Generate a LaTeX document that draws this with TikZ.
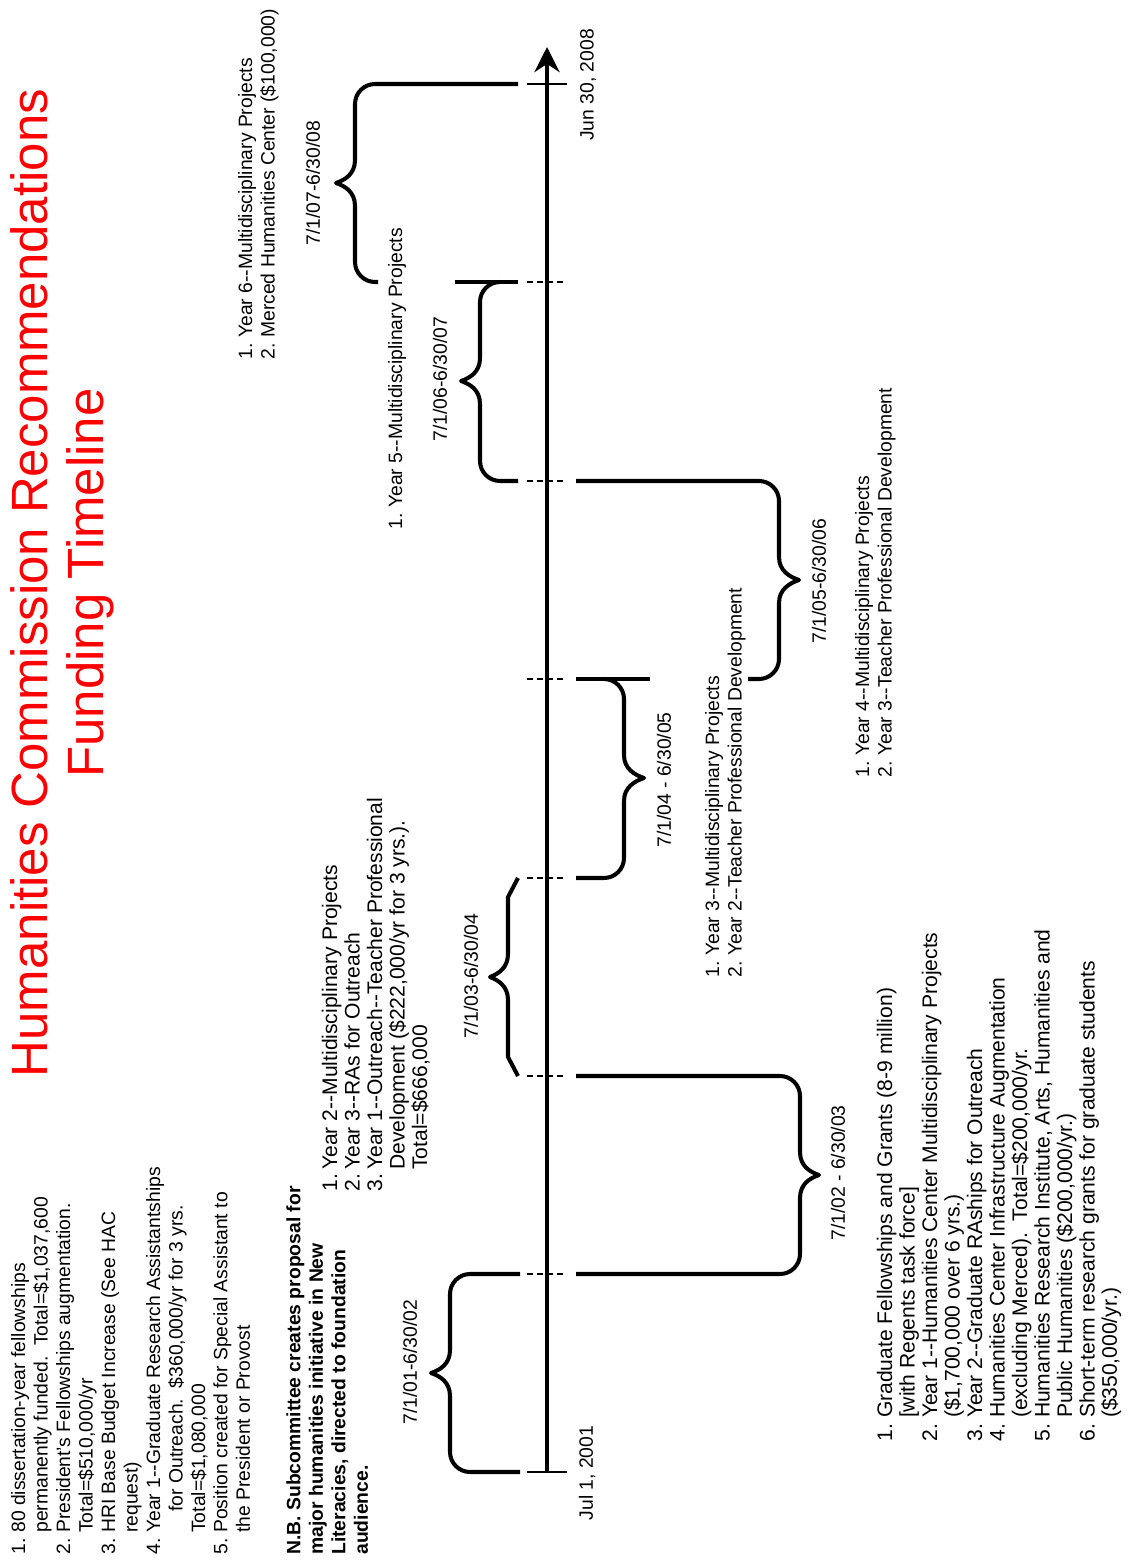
\documentclass[tikz,border=0pt]{standalone}
\usepackage{fontspec}
\setmainfont{Liberation Sans}
\usepackage{tikz}
\usetikzlibrary{arrows.meta,positioning}

\begin{document}
\begin{tikzpicture}[x=0.02cm, y=-0.02cm, >={Stealth[length=0.5cm,width=0.5cm,inset=0.16cm]},
    bracket/.style={line width=2.3pt, line join=round},
    yeartick/.style={line width=0.75pt},
    midtick/.style={line width=0.75pt, dash pattern=on 3.4pt off 2.3pt},
    period/.style={rotate=90, inner sep=0pt, font=\fontsize{11}{12.8}\selectfont},
    itemlist/.style={rotate=90, anchor=north west, inner sep=0pt, font=\fontsize{11}{12.8}\selectfont},
    biglist/.style={itemlist, font=\fontsize{12}{12.8}\selectfont},
    heading/.style={rotate=90, anchor=base, inner sep=0pt, text=red, font=\fontsize{29}{32}\selectfont}]
    \useasboundingbox (0,0) rectangle (1131,1564);

    % title
    \node[heading] (title) at (47,583) {Humanities Commission Recommendations};
    \node[heading] (subtitle) at (103,583) {Funding Timeline};

    % time axis
    \coordinate (t0) at (547,1472);
    \coordinate (t7) at (547,84);
    \coordinate (tip) at (547,47);
    \draw[line width=2.8pt,->] (t0) -- (tip);
    \draw[yeartick] (527,1472) -- (567,1472);
    \draw[yeartick] (527,84) -- (567,84);
    \draw[midtick] (527,1274) -- (567,1274) (527,1076) -- (567,1076) (527,878) -- (567,878)
        (527,679) -- (567,679) (527,481) -- (567,481) (527,282) -- (567,282);
    \node[period] (start) at (587,1473) {Jul 1, 2001};
    \node[period] (finish) at (588,85) {Jun 30, 2008};

    % yearly braces
    \draw[bracket] (520,1274) -- (470,1274) .. controls (459,1274) and (450,1283) .. (450,1294) -- (450,1350)
        .. controls (450,1364) and (440,1370) .. (431,1373) .. controls (440,1376) and (450,1382) .. (450,1396)
        -- (450,1452) .. controls (450,1463) and (459,1472) .. (470,1472) -- (520,1472);
    \draw[bracket] (576,1274) -- (780,1274) .. controls (791,1274) and (800,1265) .. (800,1254) -- (800,1198)
        .. controls (800,1184) and (810,1178) .. (819,1175) .. controls (810,1172) and (800,1166) .. (800,1152)
        -- (800,1096) .. controls (800,1085) and (791,1076) .. (780,1076) -- (576,1076);
    \draw[bracket] (518,1076) -- (508,1057) -- (508,1000) .. controls (508,986) and (498,980) .. (490,977)
        .. controls (498,974) and (508,968) .. (508,954) -- (508,897) -- (518,878);
    \draw[bracket] (576,878) -- (604,878) .. controls (615,878) and (624,869) .. (624,858) -- (624,801)
        .. controls (624,787) and (635,781) .. (644,778) .. controls (635,775) and (624,769) .. (624,755)
        -- (624,699) .. controls (624,688) and (615,679) .. (604,679);
    \draw[bracket] (576,679) -- (650,679);
    \draw[bracket] (576,481) -- (759,481) .. controls (770,481) and (779,490) .. (779,501) -- (779,557)
        .. controls (779,571) and (790,577) .. (799,580) .. controls (790,583) and (779,589) .. (779,603)
        -- (779,659) .. controls (779,670) and (770,679) .. (759,679) -- (748,679);
    \draw[bracket] (518,481) -- (500,481) .. controls (489,481) and (480,472) .. (480,461) -- (480,404)
        .. controls (480,390) and (470,384) .. (461,381) .. controls (470,378) and (480,372) .. (480,358)
        -- (480,302) .. controls (480,291) and (489,282) .. (500,282);
    \draw[bracket] (455,282) -- (518,282);
    \draw[bracket] (518,84) -- (375,84) .. controls (364,84) and (355,93) .. (355,104) -- (355,160)
        .. controls (355,174) and (345,180) .. (336,183) .. controls (345,186) and (355,192) .. (355,206)
        -- (355,262) .. controls (355,273) and (364,282) .. (375,282) -- (378,282);

    % period labels
    \node[period] (p1) at (410,1362) {7/1/01-6/30/02};
    \node[period] (p2) at (838,1173) {7/1/02 - 6/30/03};
    \node[period] (p3) at (471,976) {7/1/03-6/30/04};
    \node[period] (p4) at (664,780) {7/1/04 - 6/30/05};
    \node[period] (p5) at (819,581) {7/1/05-6/30/06};
    \node[period] (p6) at (440,379) {7/1/06-6/30/07};
    \node[period] (p7) at (313,183) {7/1/07-6/30/08};

    % what each period funds
    \node[itemlist] (start items) at (9,1555) {\begin{tabular}{@{}p{12.5pt}@{}l@{}}
        1. & 80 dissertation-year fellowships\\
           & permanently funded.\ \ Total=\$1,037,600\\
        2. & President's Fellowships augmentation.\\
           & Total=\$510,000/yr\\
        3. & HRI Base Budget Increase (See HAC\\
           & request)\\
        4. & Year 1-{}-Graduate Research Assistantships\\
           & \hspace{12pt}for Outreach.\ \ \$360,000/yr for 3 yrs.\\
           & Total=\$1,080,000\\
        5. & Position created for Special Assistant to\\
           & the President or Provost
        \end{tabular}};
    \node[itemlist, font=\fontsize{11}{12.8}\selectfont\bfseries, align=left] (nb) at (286,1555)
        {N.B. Subcommittee creates proposal for\\ major humanities initiative in New\\
         Literacies, directed to foundation\\ audience.};
    \node[biglist] (items0203) at (876,1442) {\begin{tabular}{@{}p{13.5pt}@{}l@{}}
        1. & Graduate Fellowships and Grants (8-9 million)\\
           & [with Regents task force]\\
        2. & Year 1-{}-Humanities Center Multidisciplinary Projects\\
           & (\$1,700,000 over 6 yrs.)\\
        3. & Year 2-{}-Graduate RAships for Outreach\\
        4. & Humanities Center Infrastructure Augmentation\\
           & (excluding Merced).\ \ Total=\$200,000/yr.\\
        5. & Humanities Research Institute, Arts, Humanities and\\
           & Public Humanities (\$200,000/yr.)\\
        6. & Short-term research grants for graduate students\\
           & (\$350,000/yr.)
        \end{tabular}};
    \node[biglist] (items0304) at (321,1192) {\begin{tabular}{@{}p{12.5pt}@{}l@{}}
        1. & Year 2-{}-Multidisciplinary Projects\\
        2. & Year 3-{}-RAs for Outreach\\
        3. & Year 1-{}-Outreach-{}-Teacher Professional\\
           & Development (\$222,000/yr for 3 yrs.).\\
           & Total=\$666,000
        \end{tabular}};
    \node[itemlist] (items0405) at (703,978) {\begin{tabular}{@{}p{12.5pt}@{}l@{}}
        1. & Year 3-{}-Multidisciplinary Projects\\
        2. & Year 2-{}-Teacher Professional Development
        \end{tabular}};
    \node[itemlist] (items0506) at (853,778) {\begin{tabular}{@{}p{12.5pt}@{}l@{}}
        1. & Year 4-{}-Multidisciplinary Projects\\
        2. & Year 3-{}-Teacher Professional Development
        \end{tabular}};
    \node[itemlist] (items0607) at (386,530) {\begin{tabular}{@{}p{12.5pt}@{}l@{}}
        1. & Year 5-{}-Multidisciplinary Projects
        \end{tabular}};
    \node[itemlist] (items0708) at (236,360) {\begin{tabular}{@{}p{12.5pt}@{}l@{}}
        1. & Year 6-{}-Multidisciplinary Projects\\
        2. & Merced Humanities Center (\$100,000)
        \end{tabular}};
\end{tikzpicture}
\end{document}
